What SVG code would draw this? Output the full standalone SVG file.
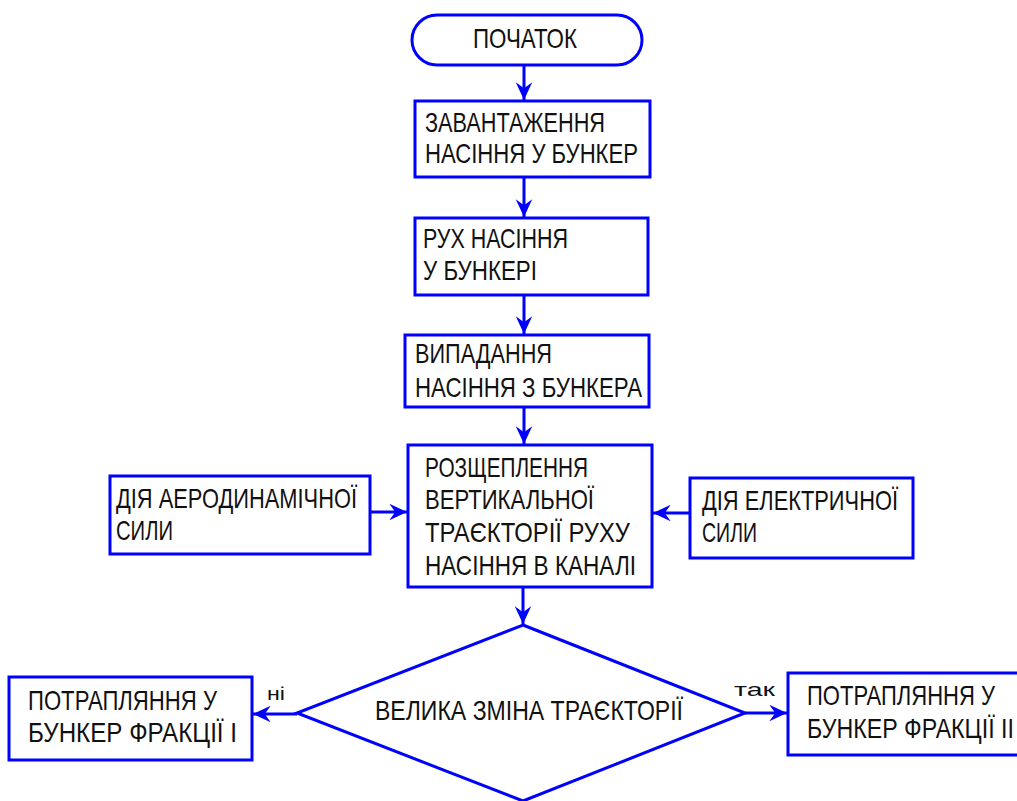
<svg xmlns="http://www.w3.org/2000/svg" width="1017" height="801" viewBox="0 0 1017 801">
<style>
.s{fill:none;stroke:#0000ff;stroke-width:3}
.c{fill:none;stroke:#0000ff;stroke-width:3;marker-end:url(#ah)}
.t{font-family:"Liberation Sans",Arial,sans-serif;font-size:28px;fill:#111}
.l{font-family:"Liberation Sans",Arial,sans-serif;font-size:19px;fill:#111}
</style>
<defs>
<marker id="ah" markerUnits="userSpaceOnUse" markerWidth="20" markerHeight="20" viewBox="-16 -8 17 16" refX="0" refY="0" orient="auto">
<path d="M0,0 L-15,-7 L-10,0 L-15,7 Z" fill="#0000ff"/>
</marker>
</defs>
<rect width="1017" height="801" fill="#fff"/>
<g id="start">
<rect class="s" x="412" y="15" width="230" height="50" rx="25" ry="25"/>
<text class="t" x="473" y="48" textLength="104" lengthAdjust="spacingAndGlyphs">ПОЧАТОК</text>
</g>
<g id="load">
<rect class="s" x="415" y="101" width="235" height="76"/>
<text class="t" x="425" y="132" textLength="180" lengthAdjust="spacingAndGlyphs">ЗАВАНТАЖЕННЯ</text>
<text class="t" x="425" y="163" textLength="213" lengthAdjust="spacingAndGlyphs">НАСІННЯ У БУНКЕР</text>
</g>
<g id="move">
<rect class="s" x="415" y="218" width="233" height="77"/>
<text class="t" x="423" y="248" textLength="145" lengthAdjust="spacingAndGlyphs">РУХ НАСІННЯ</text>
<text class="t" x="423" y="280" textLength="114" lengthAdjust="spacingAndGlyphs">У БУНКЕРІ</text>
</g>
<g id="fall">
<rect class="s" x="405" y="335" width="244" height="72"/>
<text class="t" x="415" y="363" textLength="137" lengthAdjust="spacingAndGlyphs">ВИПАДАННЯ</text>
<text class="t" x="415" y="397" textLength="227" lengthAdjust="spacingAndGlyphs">НАСІННЯ З БУНКЕРА</text>
</g>
<g id="split">
<rect class="s" x="408" y="445" width="244" height="142"/>
<text class="t" x="425" y="477" textLength="163" lengthAdjust="spacingAndGlyphs">РОЗЩЕПЛЕННЯ</text>
<text class="t" x="425" y="509" textLength="169" lengthAdjust="spacingAndGlyphs">ВЕРТИКАЛЬНОЇ</text>
<text class="t" x="425" y="542" textLength="205" lengthAdjust="spacingAndGlyphs">ТРАЄКТОРІЇ РУХУ</text>
<text class="t" x="425" y="575" textLength="211" lengthAdjust="spacingAndGlyphs">НАСІННЯ В КАНАЛІ</text>
</g>
<g id="aero">
<rect class="s" x="110" y="476" width="260" height="78"/>
<text class="t" x="116" y="508" textLength="241" lengthAdjust="spacingAndGlyphs">ДІЯ АЕРОДИНАМІЧНОЇ</text>
<text class="t" x="116" y="540" textLength="57" lengthAdjust="spacingAndGlyphs">СИЛИ</text>
</g>
<g id="electric">
<rect class="s" x="690" y="478" width="223" height="80"/>
<text class="t" x="702" y="510" textLength="196" lengthAdjust="spacingAndGlyphs">ДІЯ ЕЛЕКТРИЧНОЇ</text>
<text class="t" x="702" y="542" textLength="55" lengthAdjust="spacingAndGlyphs">СИЛИ</text>
</g>
<g id="decision">
<polygon class="s" points="523,625 745,713 523,801 297,713"/>
<text class="t" x="375" y="720" textLength="308" lengthAdjust="spacingAndGlyphs">ВЕЛИКА ЗМІНА ТРАЄКТОРІЇ</text>
</g>
<g id="frac1">
<rect class="s" x="9" y="677" width="243" height="83"/>
<text class="t" x="28" y="710" textLength="189" lengthAdjust="spacingAndGlyphs">ПОТРАПЛЯННЯ У</text>
<text class="t" x="28" y="742" textLength="209" lengthAdjust="spacingAndGlyphs">БУНКЕР ФРАКЦІЇ І</text>
</g>
<g id="frac2">
<rect class="s" x="788" y="673" width="245" height="82"/>
<text class="t" x="807" y="705" textLength="188" lengthAdjust="spacingAndGlyphs">ПОТРАПЛЯННЯ У</text>
<text class="t" x="807" y="738" textLength="207" lengthAdjust="spacingAndGlyphs">БУНКЕР ФРАКЦІЇ ІІ</text>
</g>
<g id="connectors">
<line class="c" x1="524" y1="65" x2="524" y2="100"/>
<line class="c" x1="524" y1="177" x2="524" y2="217"/>
<line class="c" x1="524" y1="295" x2="524" y2="334"/>
<line class="c" x1="524" y1="407" x2="524" y2="444"/>
<line class="c" x1="523" y1="587" x2="523" y2="624"/>
<line class="c" x1="370" y1="512" x2="407" y2="512"/>
<line class="c" x1="690" y1="513" x2="653" y2="513"/>
<line class="c" x1="297" y1="714" x2="253" y2="714"/>
<line class="c" x1="745" y1="713" x2="787" y2="713"/>
<text class="l" x="267" y="700" textLength="18" lengthAdjust="spacingAndGlyphs">ні</text>
<text class="l" x="734" y="696" textLength="41" lengthAdjust="spacingAndGlyphs">так</text>
</g>
</svg>
